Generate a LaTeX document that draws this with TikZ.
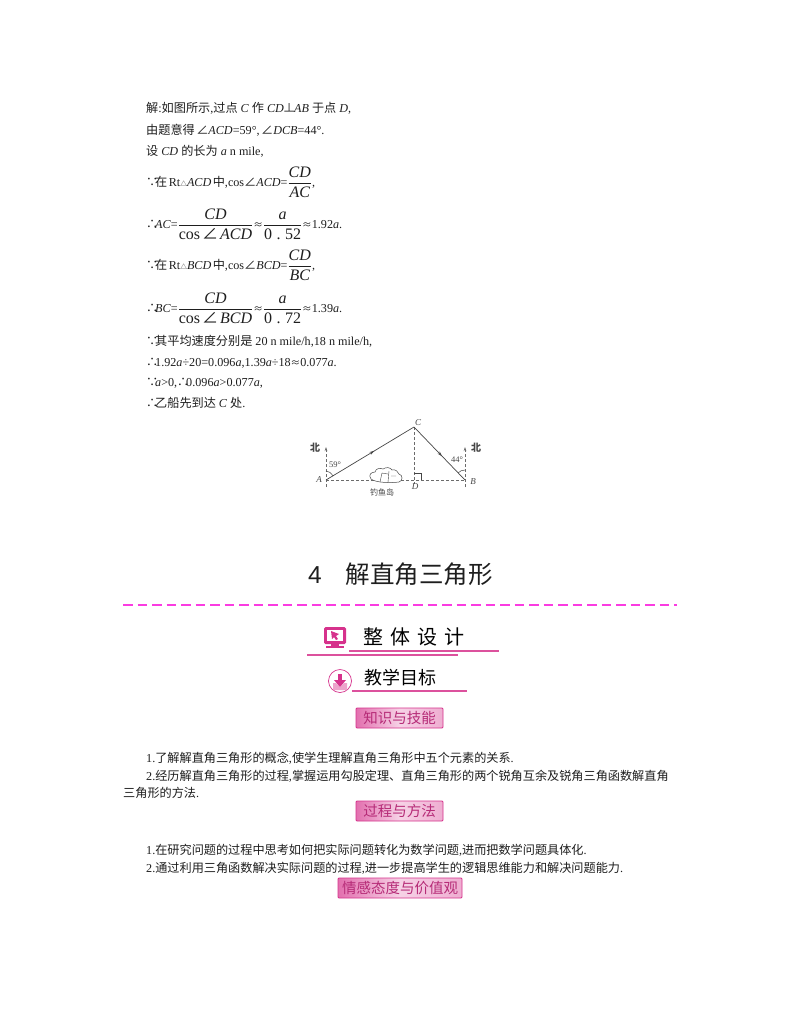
\documentclass[tikz,border=0pt]{standalone}
\usepackage{fontspec}
\setmainfont{Liberation Serif}
\newfontfamily\cjk{Noto Sans CJK SC}
\newfontfamily\arialfont{Liberation Sans}
\usetikzlibrary{arrows.meta,decorations.markings}
\newcommand\zh[1]{{\cjk #1}}
\newcommand\I[1]{\textit{#1}}
\newcommand\ang{\zh{∠}}
\newcommand\yinwei{\makebox[9pt][l]{\zh{∵}}}
\newcommand\suoyi{\makebox[9pt][l]{\zh{∴}}}
\newcommand\yue{\makebox[9.5pt][c]{\zh{\scalebox{.8}{≈}}}}
\newcommand\fr[2]{$\displaystyle\frac{\hbox{\fontsize{16}{18}\selectfont #1}}{\hbox{\rule{0pt}{13.5pt}\fontsize{16}{18}\selectfont #2}}$}
\newcommand\cosang[1]{cos\hspace{2pt}\ang\hspace{2pt}\I{#1}}
\newcommand\dfig[2]{0\hspace{4.5pt}.\hspace{4.5pt}#1#2}
\definecolor{tx}{RGB}{30,30,30}
\definecolor{rosey}{RGB}{214,50,140}
\definecolor{dashpink}{RGB}{250,60,225}
\definecolor{diag}{RGB}{70,70,70}
\tikzset{
  tl/.style={anchor=base west,inner sep=0pt,text=tx,font=\fontsize{12.15}{14}\selectfont},
  dlab/.style={inner sep=0pt,text=diag,font=\fontsize{9}{10}\selectfont\itshape},
  dz/.style={inner sep=0pt,text=diag,font=\fontsize{10}{11}\selectfont\cjk\bfseries},
  solidl/.style={draw=diag,line width=.7pt},
  dashl/.style={draw=diag!80,line width=.5pt,dash pattern=on 3pt off 2pt},
  btn/.style={draw=rosey,line width=.8pt,rounded corners=1pt,left color=rosey!70,right color=rosey!40,middle color=rosey!22,
     minimum height=20pt,inner sep=0pt,text=rosey!85!black,font=\fontsize{14.5}{16}\selectfont\cjk},
  hrule/.style={draw=rosey!85,line width=1.1pt},
  midarrow/.style={postaction={decorate},decoration={markings,mark=at position .55 with {\arrow{Stealth[length=5pt,width=3pt]}}}},
}
\begin{document}
\begin{tikzpicture}[x=1pt,y=-1pt]
\useasboundingbox (0,0) rectangle (800,1028);
\fill[white] (0,0) rectangle (800,1028);
% worked solution
\node[tl] (l1) at (146,112) {\zh{解}:\zh{如图所示},\zh{过点} \I{C} \zh{作} \I{CD}\hspace{-1pt}\zh{⊥}\hspace{-1pt}\I{AB} \zh{于点} \I{D},};
\node[tl] (l2) at (146,134) {\zh{由题意得}\hspace{1.5pt}\ang\I{ACD}=59°,\hspace{1.5pt}\ang\I{DCB}=44°.};
\node[tl] (l3) at (146,155) {\zh{设} \I{CD} \zh{的长为} \I{a} n mile,};
\node[tl] (l4) at (146,186) {\yinwei\zh{在}\hspace{1.5pt}Rt\zh{\scalebox{.55}{△}}\I{ACD}\hspace{1.5pt}\zh{中},cos\ang\I{ACD}=\fr{\I{CD}}{\I{AC}},};
\node[tl] (l5) at (146,228) {\suoyi\I{AC}=\fr{\I{CD}}{\cosang{ACD}}\yue\fr{\I{a}}{\dfig52}\yue1.92\I{a}.};
\node[tl] (l6) at (146,269) {\yinwei\zh{在}\hspace{1.5pt}Rt\zh{\scalebox{.55}{△}}\I{BCD}\hspace{1.5pt}\zh{中},cos\ang\I{BCD}=\fr{\I{CD}}{\I{BC}},};
\node[tl] (l7) at (146,312) {\suoyi\I{BC}=\fr{\I{CD}}{\cosang{BCD}}\yue\fr{\I{a}}{\dfig72}\yue1.39\I{a}.};
\node[tl] (l8) at (146,345) {\yinwei\zh{其平均速度分别是} 20 n mile/h,18 n mile/h,};
\node[tl] (l9) at (146,366) {\suoyi1.92\I{a}÷20=0.096\I{a},1.39\I{a}÷18\yue0.077\I{a}.};
\node[tl] (l10) at (146,386) {\yinwei\I{a}>0,\suoyi0.096\I{a}>0.077\I{a},};
\node[tl] (l11) at (146,407) {\suoyi\zh{乙船先到达} \I{C} \zh{处}.};
% figure
\coordinate (A) at (326,480); \coordinate (B) at (465,480);
\coordinate (C) at (414,427); \coordinate (D) at (414,480);
\coordinate (NA) at (326,447); \coordinate (SA) at (326,487);
\coordinate (NB) at (465,447); \coordinate (SB) at (465,487);
\coordinate (DS) at (414,484);
\draw[dashl] (A) -- (B);
\draw[dashl] (C) -- (DS);
\draw[dashl,-{Stealth[length=4pt,width=2.5pt]}] (SA) -- (NA);
\draw[dashl,-{Stealth[length=4pt,width=2.5pt]}] (SB) -- (NB);
\draw[solidl,midarrow] (A) -- (C);
\draw[solidl,midarrow] (C) -- (B);
\draw[diag,line width=.5pt] (414,473) -- (421,473) -- (421,480);
\draw[diag,line width=.5pt] (326,471) .. controls (329,471) and (331,473) .. (333,476);
\draw[diag,line width=.5pt] (458,473) .. controls (460,471) and (462,470) .. (465,470);
\draw[diag,line width=.5pt,fill=white] (371,479) .. controls (368,475) and (371,472) .. (375,472)
  .. controls (376,468) and (380,468) .. (383,469) .. controls (386,467) and (390,467) .. (392,470)
  .. controls (396,469) and (398,472) .. (399,474) .. controls (403,475) and (403,481) .. (399,482)
  .. controls (392,483) and (376,483) .. (371,479);
\draw[diag,line width=.4pt] (380,482) -- (382,473) -- (388,474) (388,482) -- (389,471) (391,476) -- (396,476);
\node[dlab] (la) at (319,480) {A};
\node[dlab] (lb) at (473,482) {B};
\node[dlab] (lc) at (418,423) {C};
\node[dlab] (ld) at (415,487) {D};
\node[dz] (n1) at (315,448) {北};
\node[dz] (n2) at (476,448) {北};
\node[dlab,font=\fontsize{8.5}{9}\selectfont] (a1) at (335,465) {59°};
\node[dlab,font=\fontsize{8.5}{9}\selectfont] (a2) at (457,460) {44°};
\node[dz,font=\fontsize{8}{9}\selectfont\cjk] (isl) at (382,492) {钓鱼岛};
% section title
\node[anchor=base west,inner sep=0pt,text=tx,font=\fontsize{24.5}{28}\selectfont] (title) at (308,583) {{\arialfont 4}\hspace{24pt}\zh{解直角三角形}};
\coordinate (dashL) at (123,605); \coordinate (dashR) at (677,605);
\draw[draw=dashpink,line width=1.3pt,dash pattern=on 9.5pt off 5pt] (dashL) -- (dashR);
% overall design heading
\coordinate (m1) at (349,651); \coordinate (m2) at (499,651);
\coordinate (m3) at (307,655); \coordinate (m4) at (458,655);
\draw[hrule] (m1) -- (m2); \draw[hrule] (m3) -- (m4);
\fill[rosey,rounded corners=1.5pt] (324,627) rectangle (346,644);
\fill[white] (327,630) rectangle (343,641);
\fill[rosey] (331,631) -- (339,634) -- (336,636) -- (338,639) -- (336,640) -- (334,637) -- (332,639) -- cycle;
\fill[rosey] (331,644) rectangle (339,646);
\fill[rosey] (326,646) rectangle (344,648);
\node[anchor=center,inner sep=0pt,text=black,font=\fontsize{20}{22}\selectfont\cjk] (h1) at (414,637) {整\hspace{7pt}体\hspace{7pt}设\hspace{7pt}计};
% teaching goals heading
\coordinate (g1) at (352,691); \coordinate (g2) at (467,691);
\draw[hrule] (g1) -- (g2);
\draw[rosey,line width=.7pt,fill=white] (340,681) circle (11.5);
\fill[rosey!45] (333,683) -- (333,690) -- (347,690) -- (347,683) -- (344,683) -- (340,687) -- (336,683) -- cycle;
\fill[rosey] (338,674) rectangle (342,680);
\fill[rosey] (334,680) -- (346,680) -- (340,687) -- cycle;
\node[anchor=center,inner sep=0pt,text=black,font=\fontsize{18}{20}\selectfont\cjk] (h2) at (400,678) {教学目标};
% buttons and body
\node[btn,minimum width=87pt] (b1) at (399.5,718) {知识与技能};
\node[tl] (p1) at (146,762) {1.\zh{了解解直角三角形的概念},\zh{使学生理解直角三角形中五个元素的关系}.};
\node[tl] (p2) at (146,780) {2.\zh{经历解直角三角形的过程},\zh{掌握运用勾股定理、直角三角形的两个锐角互余及锐角三角函数解直角}};
\node[tl] (p3) at (123,797) {\zh{三角形的方法}.};
\node[btn,minimum width=87pt] (b2) at (399.5,811) {过程与方法};
\node[tl] (p4) at (146,854) {1.\zh{在研究问题的过程中思考如何把实际问题转化为数学问题},\zh{进而把数学问题具体化}.};
\node[tl] (p5) at (146,872) {2.\zh{通过利用三角函数解决实际问题的过程},\zh{进一步提高学生的逻辑思维能力和解决问题能力}.};
\node[btn,minimum width=124pt] (b3) at (400,888) {情感态度与价值观};
\end{tikzpicture}
\end{document}
